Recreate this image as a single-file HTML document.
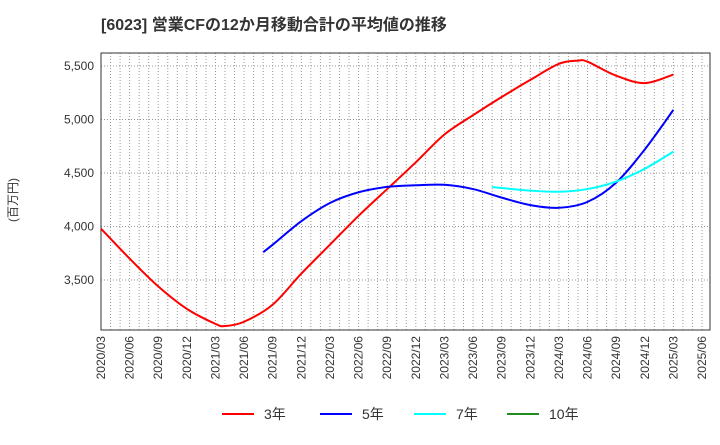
<!DOCTYPE html>
<html><head><meta charset="utf-8"><style>
body{margin:0;background:#fff;font-family:"Liberation Sans","Noto Sans CJK JP",sans-serif}
</style></head><body>
<svg id="c" width="720" height="440" xmlns="http://www.w3.org/2000/svg">
<text x="101" y="30" font-size="16" font-weight="bold" fill="#333" font-family="Liberation Sans, Noto Sans CJK JP, sans-serif">[6023]  営業CFの12か月移動合計の平均値の推移</text>
<text transform="translate(17,200) rotate(-90)" text-anchor="middle" font-size="12" fill="#333">(百万円)</text>
<g id="grid"></g><g id="axes"></g><g id="series"></g><g id="legend"></g>
</svg>
<script>
const xLabels=["2020/03","2020/06","2020/09","2020/12","2021/03","2021/06","2021/09","2021/12","2022/03","2022/06","2022/09","2022/12","2023/03","2023/06","2023/09","2023/12","2024/03","2024/06","2024/09","2024/12","2025/03","2025/06"];
const yTicks=[3500,4000,4500,5000,5500];
const s3m=[0,3,6,9,12,13,15,18,21,24,27,30,33,36,39,42,45,48,50,51,54,57,60];
const s3v=[3980,3700,3440,3230,3090,3070,3110,3270,3560,3830,4100,4350,4600,4860,5040,5210,5370,5520,5550,5540,5410,5340,5420];
const s5m=[17,18,21,24,27,30,33,36,39,42,45,48,51,54,57,60];
const s5v=[3760,3830,4050,4220,4320,4370,4385,4390,4350,4270,4200,4175,4230,4410,4720,5090];
const s7m=[41,42,45,48,51,54,57,60];
const s7v=[4370,4360,4335,4325,4350,4420,4540,4700];
const L=101,R=702,T=53,B=330;
const X=m=>L+(R-L)*m/63;
const Y=v=>66+(5500-v)*0.107;
const NS="http://www.w3.org/2000/svg";
function el(t,a,p){const e=document.createElementNS(NS,t);for(const k in a)e.setAttribute(k,a[k]);document.getElementById(p).appendChild(e);return e;}
for(let m=1;m<64;m++){const l=el("line",{x1:X(m),x2:X(m),y1:T,y2:B,stroke:"#999","stroke-dasharray":"1,2","stroke-width":1},"grid");

}
yTicks.forEach(v=>{const l=el("line",{x1:L,x2:710,y1:Y(v),y2:Y(v),stroke:"#999","stroke-dasharray":"1,2"},"grid");


const t=el("text",{x:L-7,y:Y(v)+4,"text-anchor":"end","font-size":12,fill:"#333"},"axes");


t.textContent=v.toLocaleString("en-US");});
const fr=el("rect",{x:L,y:T,width:609,height:B-T,fill:"none",stroke:"#333"},"axes");


xLabels.forEach((s,i)=>{const x=X(i*3);const t=el("text",{transform:`translate(${x+4},${B+6}) rotate(-90)`,"text-anchor":"end","font-size":12,fill:"#333"},"axes");


t.textContent=s;});
function path(ms,vs){const p=ms.map((m,i)=>[X(m),Y(vs[i])]);let d=`M${p[0][0]},${p[0][1]}`;
for(let i=0;i<p.length-1;i++){const p0=p[i-1]||p[i],p1=p[i],p2=p[i+1],p3=p[i+2]||p2;
d+=` C${p1[0]+(p2[0]-p0[0])/6},${p1[1]+(p2[1]-p0[1])/6} ${p2[0]-(p3[0]-p1[0])/6},${p2[1]-(p3[1]-p1[1])/6} ${p2[0]},${p2[1]}`;}return d;}
[[s3m,s3v,"#ff0000","series-3yr"],[s5m,s5v,"#0000ff","series-5yr"],[s7m,s7v,"#00ffff","series-7yr"]].forEach(([m,v,c,n])=>{
const p=el("path",{d:path(m,v),fill:"none",stroke:c,"stroke-width":2},"series");

});
[["3年","#ff0000",222],["5年","#0000ff",320],["7年","#00ffff",414],["10年","#228b22",507]].forEach(([t,c,x])=>{
const l=el("line",{x1:x,x2:x+32,y1:414,y2:414,stroke:c,"stroke-width":2},"legend");


const tx=el("text",{x:x+42,y:419,"font-size":14,fill:"#333"},"legend");


tx.textContent=t;});
</script>
</body></html>
